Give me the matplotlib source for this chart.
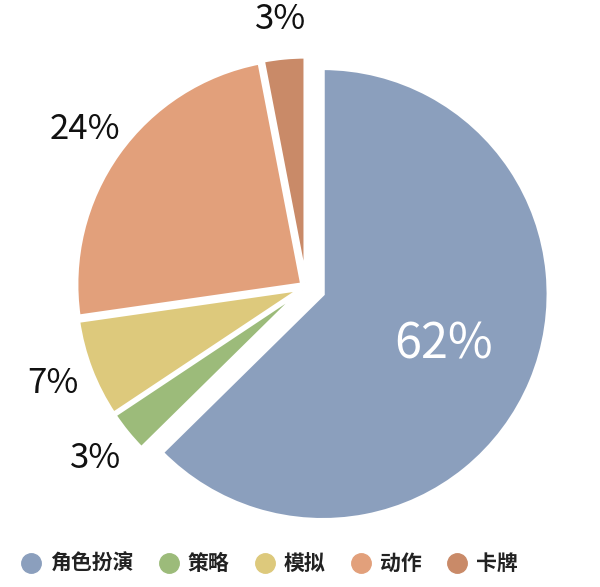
import matplotlib.pyplot as plt
from matplotlib.lines import Line2D
import numpy as np

plt.rcParams["font.family"] = ["Noto Sans CJK SC", "DejaVu Sans"]

categories = ["角色扮演", "策略", "模拟", "动作", "卡牌"]
shares = [62, 3, 7, 24, 3]
colors = ["#8B9FBD", "#9CBB7A", "#DDC97C", "#E2A07B", "#C98A68"]
explode = [0.08, 0.02, 0.02, 0.02, 0.02]
label_dist = [0.66, 1.2, 1.2, 1.2, 1.19]

fig = plt.figure(figsize=(6, 5.87), dpi=100)
ax = fig.add_axes([0, 0, 1, 1])

wedges, _ = ax.pie(shares, colors=colors, explode=explode, startangle=90,
                   counterclock=False, radius=1,
                   wedgeprops=dict(edgecolor="white", linewidth=3))

for w, val, d, i in zip(wedges, shares, label_dist, range(len(shares))):
    mid = np.deg2rad((w.theta1 + w.theta2) / 2)
    x, y = d * np.cos(mid), d * np.sin(mid)
    if i == 0:
        ax.text(x, y, f"{val}%", ha="center", va="center", fontsize=35,
                color="white")
    else:
        ax.text(x, y, f"{val}%", ha="center", va="center", fontsize=25,
                color="#111111")

ax.set_xlim(-1.354, 1.301)
ax.set_ylim(-1.327, 1.270)
ax.set_aspect("auto")
ax.axis("off")

handles = [Line2D([], [], marker="o", linestyle="", markersize=14,
                  markerfacecolor=c, markeredgecolor=c) for c in colors]
fig.legend(handles, categories, loc="center", bbox_to_anchor=(0.447, 0.04),
           ncol=5, frameon=False, prop=dict(size=15, weight="bold"),
           handletextpad=0.3, columnspacing=1.1, handlelength=1.2,
           labelcolor="#222222")

fig.savefig("out.png", dpi=100, facecolor="white")
